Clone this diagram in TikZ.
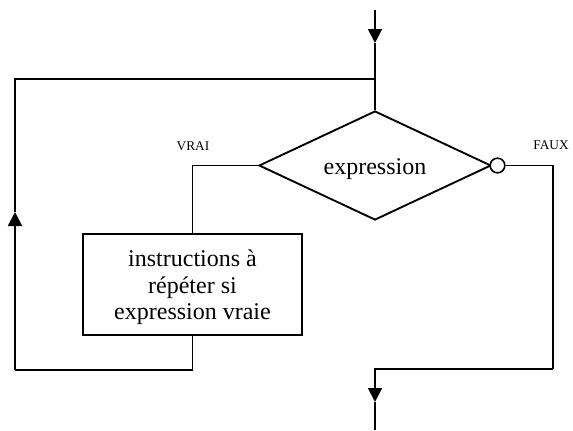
\documentclass[tikz,border=0pt]{standalone}
\usepackage{fontspec}
\setmainfont{Liberation Serif}
\usepackage{tikz}
\usetikzlibrary{
    arrows.meta,
    shapes,
    shapes.geometric
}

\begin{document}
\begin{tikzpicture}[x=0.75pt, y=-0.75pt,
        line/.style={draw, line width=1.4pt},
        flow/.style={line, -{Triangle[length=10.5pt, width=10.5pt]}},
        bigtext/.style={font=\fontsize{18}{20}\selectfont},
        label/.style={font=\fontsize{10}{12}\selectfont}]
                \useasboundingbox (0, 0) rectangle (573, 430);

                \node[draw, diamond, line width=1.4pt, inner sep=0pt, shape aspect=2.13, minimum width=174pt, minimum height=81.75pt, text height=12.75pt, text depth=0pt, bigtext] (cond) at (375, 165.5) {expression};
                \node[draw, circle, line width=1.2pt, fill=white, inner sep=0pt, minimum size=11pt] (neg) at (497.5, 165.5) {};
                \node[draw, rectangle, line width=1.4pt, align=center, minimum width=164.25pt, minimum height=75.75pt, inner sep=0pt, text height=56pt, text depth=3.25pt, bigtext] (body) at (192.5, 284.5) {instructions à\\répéter si\\expression vraie};

                \node[label] (vrai) at (193, 146) {VRAI};
                \node[label] (faux) at (551, 145) {FAUX};

                \coordinate (in) at (375, 10);
                \coordinate (in tip) at (375, 43);
                \coordinate (join) at (375, 79);
                \coordinate (loop top) at (15, 79);
                \coordinate (loop tip) at (15, 212);
                \coordinate (loop bottom) at (15, 370);
                \coordinate (faux bottom) at (553, 369);
                \coordinate (out tip) at (375, 402);
                \coordinate (out) at (375, 430);

                \draw[flow] (in)--(in tip);
                \draw[line] (in tip)--(cond.north);

                \draw[line] (cond.west) -| (body.north);
                \draw[line] (body.south) |- (loop bottom);
                \draw[flow] (loop bottom)--(loop tip);
                \draw[line] (loop tip)--(loop top)--(join);

                \draw[line] (neg.east) -| (faux bottom);
                \draw[flow] (faux bottom) -| (out tip);
                \draw[line] (out tip)--(out);
            \end{tikzpicture}
\end{document}
